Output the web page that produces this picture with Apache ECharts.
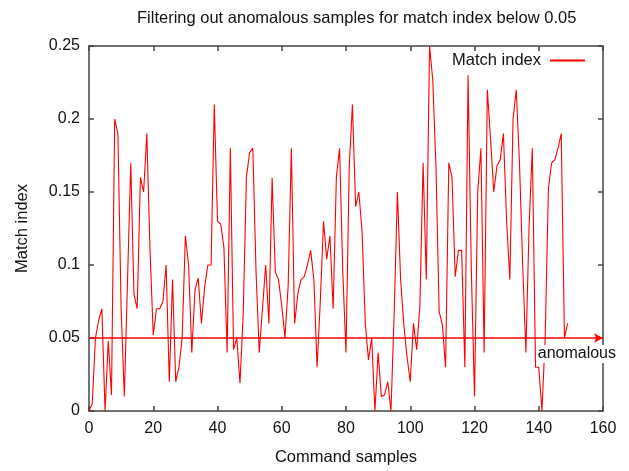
<!DOCTYPE html>
<html lang="en">
<head>
	<meta charset="UTF-8">
	<title>Match index</title>
	<style type="text/css">
		body{ margin: 0; background: #fff; }
		#a{ width: 629px; height: 471px; }
	</style>
</head>
<body>
	<div id="a"></div>
	<script type="text/javascript" src="https://cdn.jsdelivr.net/npm/echarts@6/dist/echarts.min.js"></script>
	<script type="text/javascript">
		// values, one per command sample (0..149)
		var matchIndex = [
			0, 0.005, 0.05, 0.062, 0.07, 0, 0.048, 0.011, 0.2, 0.19,
			0.07, 0.01, 0.09, 0.17, 0.08, 0.07, 0.16, 0.15, 0.19, 0.11,
			0.052, 0.07, 0.07, 0.075, 0.1, 0.02, 0.09, 0.02, 0.03, 0.05,
			0.12, 0.1, 0.04, 0.083, 0.091, 0.06, 0.085, 0.1, 0.1, 0.21,
			0.13, 0.128, 0.112, 0.04, 0.18, 0.042, 0.05, 0.019, 0.066, 0.16,
			0.177, 0.18, 0.095, 0.04, 0.07, 0.1, 0.06, 0.16, 0.095, 0.09,
			0.072, 0.05, 0.086, 0.18, 0.06, 0.08, 0.09, 0.092, 0.1, 0.11,
			0.09, 0.03, 0.075, 0.13, 0.104, 0.12, 0.07, 0.16, 0.18, 0.095,
			0.04, 0.167, 0.21, 0.14, 0.15, 0.123, 0.06, 0.035, 0.05, 0,
			0.04, 0.01, 0.011, 0.02, 0, 0.067, 0.15, 0.09, 0.059, 0.037,
			0.02, 0.06, 0.042, 0.072, 0.17, 0.09, 0.25, 0.227, 0.168, 0.068,
			0.059, 0.03, 0.17, 0.16, 0.092, 0.11, 0.11, 0.03, 0.23, 0.098,
			0.01, 0.15, 0.18, 0.04, 0.22, 0.186, 0.15, 0.168, 0.172, 0.19,
			0.13, 0.09, 0.2, 0.22, 0.17, 0.1, 0.04, 0.127, 0.18, 0.03,
			0.03, 0, 0.05, 0.152, 0.17, 0.172, 0.18, 0.19, 0.05, 0.06
		];
		var threshold = 0.05;
		var titleText = 'Filtering out anomalous samples for match index below 0.05';

		var points = matchIndex.map(function (v, i) { return [i, v]; });

		var font = '"Liberation Sans", Arial, sans-serif';
		// gnuplot style frame: box on all sides, ticks pointing in
		var frame = { show: true, onZero: false, lineStyle: { color: '#444', width: 1.5 } };
		var tick = { show: true, inside: true, length: 5, lineStyle: { color: '#444', width: 1.5 } };

		var myChart = echarts.init(document.getElementById('a'));
		var option = {
			animation: false,
			textStyle: { fontFamily: font },
			title: {
				text: titleText,
				left: 137,
				top: 10,
				padding: 0,
				textStyle: { fontSize: 16.5, fontWeight: 'normal', color: '#111', fontFamily: font }
			},
			legend: {
				data: [{ name: 'Match index', icon: 'rect' }],
				right: 44,
				top: 52,
				padding: 0,
				align: 'right',
				itemWidth: 35,
				itemHeight: 2,
				textStyle: { fontSize: 16.5, color: '#111', fontFamily: font, padding: [0, 4, 0, 0] }
			},
			grid: { left: 89, right: 26, top: 46, bottom: 58 },
			xAxis: [{
				type: 'value', min: 0, max: 160, interval: 20,
				name: 'Command samples', nameLocation: 'middle', nameGap: 38,
				nameTextStyle: { fontSize: 16.5, color: '#111', fontFamily: font },
				axisLine: frame, axisTick: tick,
				axisLabel: { fontSize: 16, color: '#111', margin: 10, fontFamily: font },
				splitLine: { show: false }
			}, {
				type: 'value', min: 0, max: 160, interval: 20, position: 'top',
				axisLine: frame, axisTick: tick,
				axisLabel: { show: false }, splitLine: { show: false }
			}],
			yAxis: [{
				type: 'value', min: 0, max: 0.25, interval: 0.05,
				name: 'Match index', nameLocation: 'middle', nameGap: 58, nameRotate: 90,
				nameTextStyle: { fontSize: 16.5, color: '#111', fontFamily: font },
				axisLine: frame, axisTick: tick,
				axisLabel: { fontSize: 16, color: '#111', margin: 9, fontFamily: font },
				splitLine: { show: false }
			}, {
				type: 'value', min: 0, max: 0.25, interval: 0.05, position: 'right',
				axisLine: frame, axisTick: tick,
				axisLabel: { show: false }, splitLine: { show: false }
			}],
			series: [{
				name: 'Match index',
				type: 'line',
				data: points,
				showSymbol: false,
				color: '#ff0000',
				lineStyle: { color: '#ff0000', width: 1.1 },
				markLine: {
					silent: true,
					symbol: ['none', 'arrow'],
					symbolSize: [7, 9],
					lineStyle: { color: '#ff0000', width: 1.5, type: 'solid' },
					label: {
						show: true,
						position: 'insideEndBottom',
						formatter: 'anomalous',
						offset: [19, 2],
						fontSize: 16,
						color: '#111',
						fontFamily: font,
						backgroundColor: '#fff',
						padding: [1, 1]
					},
					data: [{ yAxis: threshold }]
				}
			}]
		};
		myChart.setOption(option);
	</script>
</body>
</html>
